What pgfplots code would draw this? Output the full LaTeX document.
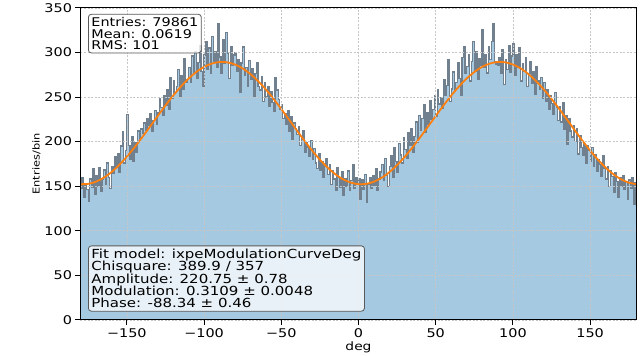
\documentclass[border=0pt]{standalone}
\usepackage{fontspec}
\setmainfont{DejaVu Sans}[FakeStretch=1.2]
\usepackage{pgfplots}
\usepackage{pgfplotstable}
\pgfplotsset{compat=1.18}
\definecolor{histfill}{RGB}{165,201,225}
\definecolor{histedge}{RGB}{112,128,142}
\definecolor{fitorange}{RGB}{255,127,14}

% counts per 1-degree bin, from -180 to 180 (last value repeated to close the step)
\pgfplotstableread[row sep=\\]{
y\\
148\\160\\137\\151\\146\\133\\158\\149\\170\\141\\
162\\150\\171\\144\\158\\168\\152\\176\\160\\147\\
172\\164\\183\\171\\187\\165\\195\\211\\176\\190\\
230\\196\\180\\205\\178\\199\\188\\212\\201\\214\\
209\\221\\213\\226\\218\\231\\212\\224\\235\\219\\
232\\248\\238\\229\\252\\241\\258\\236\\272\\249\\
268\\255\\262\\281\\251\\274\\259\\293\\266\\270\\
283\\266\\296\\277\\301\\271\\289\\308\\279\\262\\
297\\312\\281\\305\\276\\318\\290\\301\\283\\332\\
295\\276\\314\\288\\322\\299\\271\\306\\285\\297\\
300\\279\\292\\255\\288\\306\\274\\283\\262\\291\\
270\\282\\251\\276\\289\\262\\258\\273\\245\\266\\
250\\262\\239\\256\\244\\234\\272\\258\\247\\236\\
241\\226\\231\\219\\235\\212\\228\\203\\221\\215\\
208\\217\\196\\203\\212\\188\\199\\193\\183\\201\\
180\\192\\176\\170\\186\\168\\178\\160\\172\\181\\
163\\174\\152\\167\\158\\145\\171\\160\\149\\166\\
140\\158\\150\\167\\145\\156\\174\\148\\160\\153\\
158\\135\\157\\146\\163\\132\\152\\159\\147\\162\\
151\\170\\145\\158\\166\\174\\156\\181\\162\\150\\
172\\184\\160\\193\\178\\166\\198\\185\\176\\204\\
191\\181\\210\\196\\215\\188\\206\\222\\199\\229\\
213\\226\\241\\210\\232\\219\\246\\225\\236\\252\\
228\\258\\242\\249\\237\\270\\252\\263\\292\\245\\
259\\278\\256\\266\\288\\271\\252\\294\\307\\276\\
284\\297\\268\\290\\312\\279\\301\\270\\293\\286\\
326\\283\\298\\277\\306\\292\\312\\332\\290\\287\\
285\\294\\276\\303\\264\\292\\281\\308\\278\\296\\
310\\274\\298\\283\\305\\268\\287\\279\\294\\262\\
276\\290\\265\\278\\253\\284\\268\\259\\272\\248\\
266\\245\\258\\236\\251\\243\\230\\255\\238\\224\\
239\\222\\244\\214\\229\\197\\226\\212\\205\\218\\
200\\214\\186\\207\\193\\184\\198\\176\\195\\190\\
178\\193\\172\\185\\167\\180\\174\\161\\184\\170\\
158\\172\\150\\167\\161\\143\\165\\155\\138\\160\\
150\\162\\146\\155\\135\\157\\148\\160\\130\\154\\
154\\
}\hist

\pgfplotstableread{
x y
-180 152.24
-175 152.59
-170 155.01
-165 159.43
-160 165.71
-155 173.67
-150 183.05
-145 193.58
-140 204.94
-135 216.77
-130 228.73
-125 240.45
-120 251.57
-115 261.75
-110 270.68
-105 278.10
-100 283.78
-95 287.53
-90 289.26
-85 288.91
-80 286.49
-75 282.07
-70 275.79
-65 267.83
-60 258.45
-55 247.92
-50 236.56
-45 224.73
-40 212.77
-35 201.05
-30 189.93
-25 179.75
-20 170.82
-15 163.40
-10 157.72
-5 153.97
0 152.24
5 152.59
10 155.01
15 159.43
20 165.71
25 173.67
30 183.05
35 193.58
40 204.94
45 216.77
50 228.73
55 240.45
60 251.57
65 261.75
70 270.68
75 278.10
80 283.78
85 287.53
90 289.26
95 288.91
100 286.49
105 282.07
110 275.79
115 267.83
120 258.45
125 247.92
130 236.56
135 224.73
140 212.77
145 201.05
150 189.93
155 179.75
160 170.82
165 163.40
170 157.72
175 153.97
180 152.24
}\fit

\begin{document}
\begin{tikzpicture}
\begin{axis}[
  scale only axis, width=556pt, height=312pt,
  xmin=-180, xmax=180, ymin=0, ymax=350,
  xtick={-150,-100,-50,0,50,100,150},
  xticklabels={−150,−100,−50,0,50,100,150},
  ytick={0,50,100,150,200,250,300,350},
  tick align=outside, xtick pos=bottom, ytick pos=left,
  major tick length=5pt,
  tick style={black, line width=0.9pt},
  axis line style={black, line width=1.1pt},
  grid=major,
  grid style={gray!45, dash pattern=on 2pt off 1.5pt, line width=0.6pt},
  axis on top,
  ticklabel style={font=\fontsize{12}{12}\selectfont},
  /pgf/number format/assume math mode=true,
  xlabel={deg}, ylabel={Entries/bin},
  xlabel style={font=\fontsize{11.5}{12}\selectfont, yshift=3pt},
  ylabel style={font=\fontsize{9.5}{10}\selectfont, yshift=-3pt},
]
\addplot[const plot, fill=histfill, draw=none] table[x expr=\coordindex-180, y=y] {\hist} \closedcycle;
\addplot[const plot, draw=histedge, line width=1.3pt] table[x expr=\coordindex-180, y=y] {\hist};
\addplot[smooth, draw=fitorange, line width=1.8pt] table[x=x, y=y] {\fit};
\end{axis}
\node[anchor=north west, draw=gray!70!black, rounded corners=3pt, fill=white, fill opacity=0.8, text opacity=1, align=left, inner sep=3pt, line width=0.8pt, font=\fontsize{12}{11.7}\selectfont]
  at ([xshift=7.5pt,yshift=-6pt]current axis.north west) {Entries: 79861\\Mean: 0.0619\\RMS: 101};
\node[anchor=south west, draw=gray!70!black, rounded corners=3pt, fill=white, fill opacity=0.75, text opacity=1, align=left, inner sep=3pt, line width=0.8pt, font=\fontsize{12.5}{12.4}\selectfont]
  at ([xshift=7.5pt,yshift=8.3pt]current axis.south west) {Fit model: ixpeModulationCurveDeg\\Chisquare: 389.9 / 357\\Amplitude: 220.75 ± 0.78\\Modulation: 0.3109 ± 0.0048\\Phase: -88.34 ± 0.46};
\path ([xshift=-80.5pt,yshift=-35pt]current axis.south west) rectangle ++(642pt,354pt);
\end{tikzpicture}
\end{document}
